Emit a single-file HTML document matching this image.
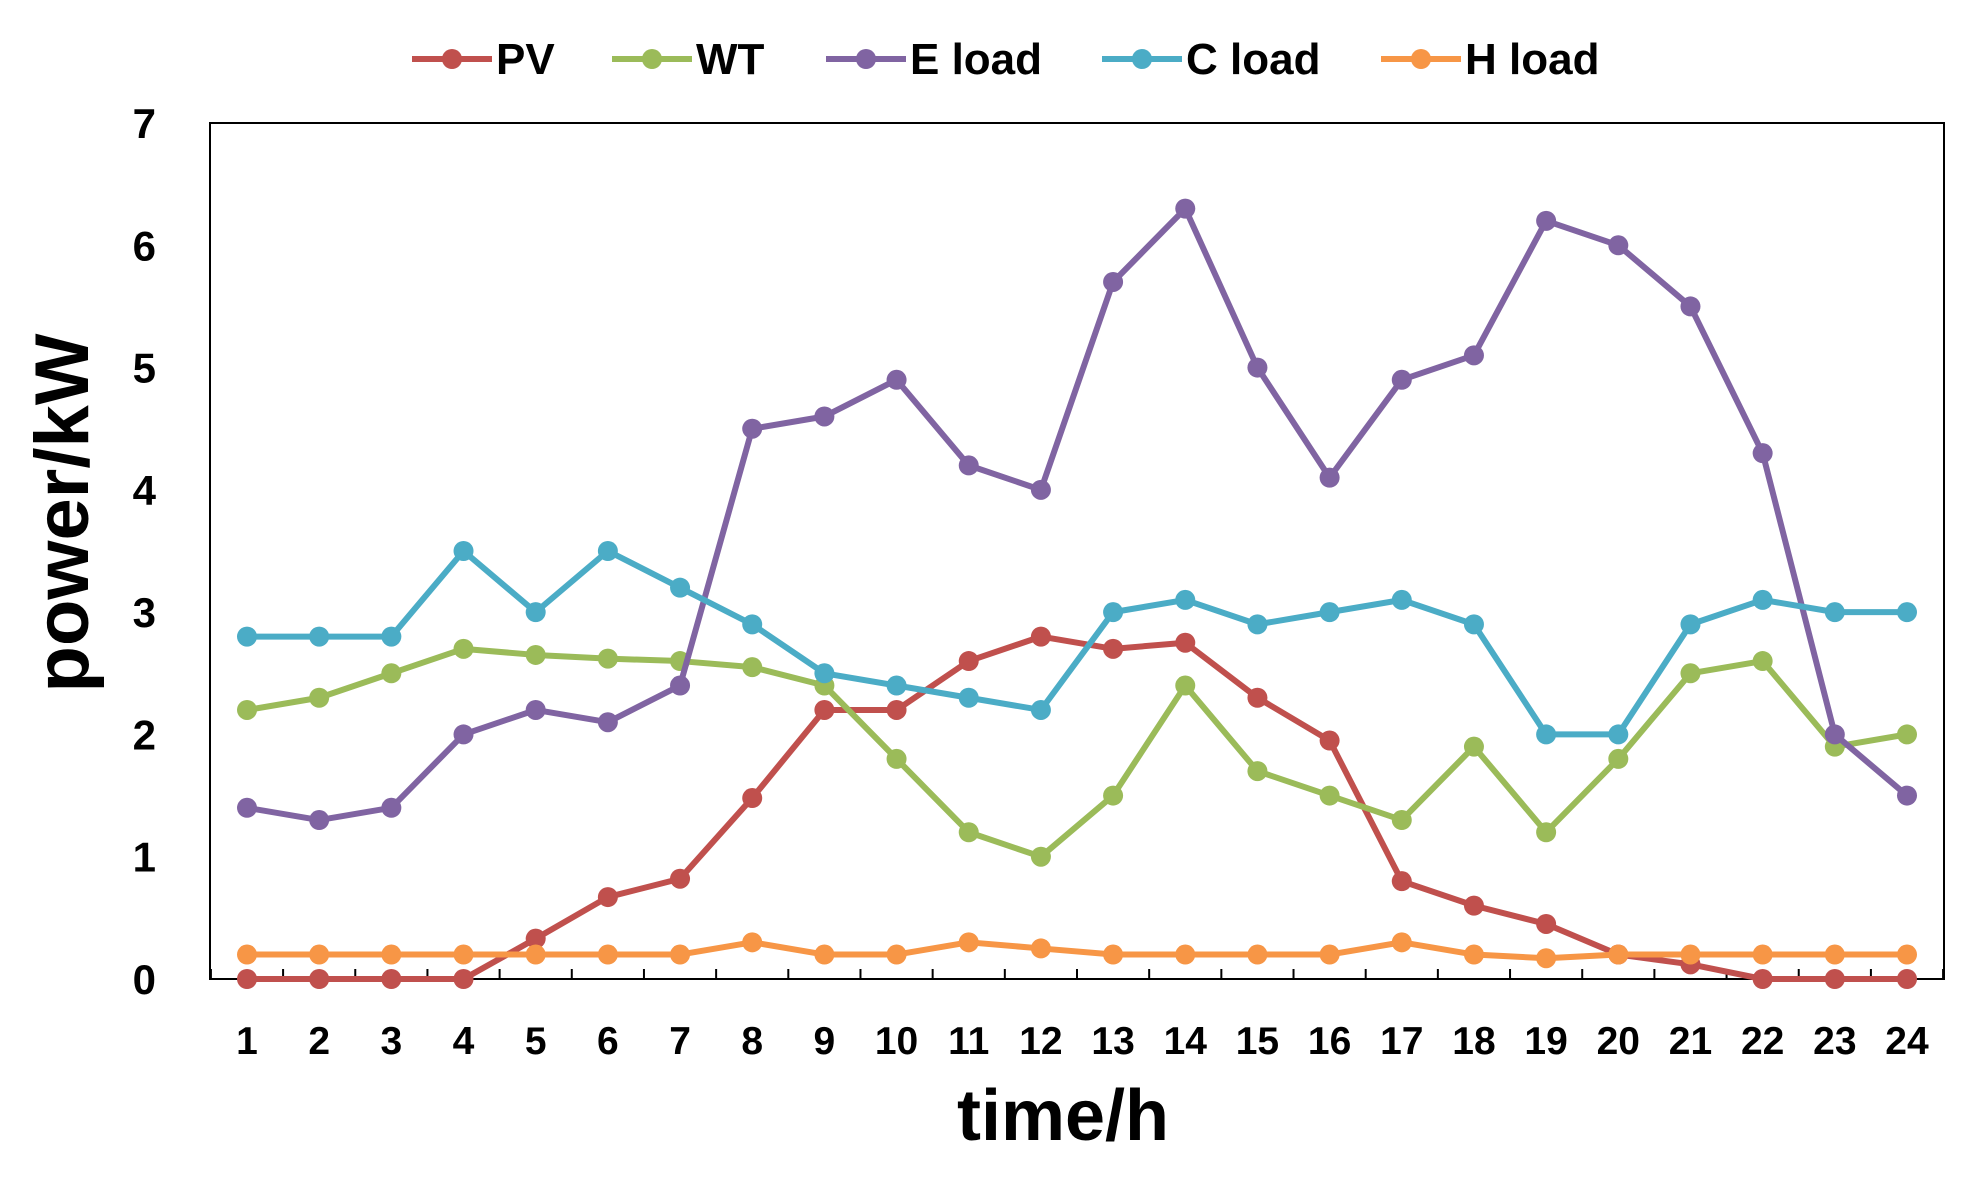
<!DOCTYPE html>
<html><head><meta charset="utf-8"><style>
body{margin:0;background:#fff;}
svg text{font-family:"Liberation Sans",sans-serif;font-weight:bold;fill:#000;}
</style></head><body>
<svg id="chart" width="1987" height="1180" viewBox="0 0 1987 1180"></svg>
<script>
const categories=["1","2","3","4","5","6","7","8","9","10","11","12","13","14","15","16","17","18","19","20","21","22","23","24"];
const yTicks=[0,1,2,3,4,5,6,7];
const seriesNames=["PV","WT","E load","C load","H load"];
const pv=[0,0,0,0,0.33,0.67,0.82,1.48,2.2,2.2,2.6,2.8,2.7,2.75,2.3,1.95,0.8,0.6,0.45,0.2,0.12,0,0,0];
const wt=[2.2,2.3,2.5,2.7,2.65,2.62,2.6,2.55,2.4,1.8,1.2,1.0,1.5,2.4,1.7,1.5,1.3,1.9,1.2,1.8,2.5,2.6,1.9,2.0];
const eload=[1.4,1.3,1.4,2.0,2.2,2.1,2.4,4.5,4.6,4.9,4.2,4.0,5.7,6.3,5.0,4.1,4.9,5.1,6.2,6.0,5.5,4.3,2.0,1.5];
const cload=[2.8,2.8,2.8,3.5,3.0,3.5,3.2,2.9,2.5,2.4,2.3,2.2,3.0,3.1,2.9,3.0,3.1,2.9,2.0,2.0,2.9,3.1,3.0,3.0];
const hload=[0.2,0.2,0.2,0.2,0.2,0.2,0.2,0.3,0.2,0.2,0.3,0.25,0.2,0.2,0.2,0.2,0.3,0.2,0.17,0.2,0.2,0.2,0.2,0.2];
const colors=["#c0504d","#9bbb59","#8064a2","#4bacc6","#f79646"];
const allSeries=[pv,wt,eload,cload,hload];
const NS="http://www.w3.org/2000/svg";
const svg=document.getElementById('chart');
const L=210,R=1944,T=123,B=979;
const x1=247,xN=1907;
function xs(i){return x1+(xN-x1)*i/(categories.length-1);}
function ys(v){return B-(B-T)*v/7;}
function mk(tag,attrs,parent){const e=document.createElementNS(NS,tag);for(const k in attrs)e.setAttribute(k,attrs[k]);(parent||svg).appendChild(e);return e;}
let frame=mk('rect',{x:L,y:T,width:R-L,height:B-T,fill:'none',stroke:'#000','stroke-width':2});


yTicks.forEach(v=>{
 let t=mk('text',{x:156,y:ys(v)+15,'text-anchor':'end','font-size':42});
 t.textContent=v;
 
 
});
const step=(xN-x1)/(categories.length-1);
for(let i=0;i<=categories.length;i++){
 const x=x1-step/2+i*step;
 if(x>L&&x<R){let tk=mk('line',{x1:x,y1:B,x2:x,y2:B-10,stroke:'#000','stroke-width':2});
 
 }
}
categories.forEach((c,i)=>{
 let t=mk('text',{x:xs(i),y:1054,'text-anchor':'middle','font-size':39});
 t.textContent=c;
 
 
});
allSeries.forEach((s,k)=>{
 const g=mk('g',{});
 
 
 mk('polyline',{points:s.map((v,i)=>xs(i)+','+ys(v)).join(' '),fill:'none',stroke:colors[k],'stroke-width':6,'stroke-linejoin':'round'},g);
 s.forEach((v,i)=>{
  const c=mk('circle',{cx:xs(i),cy:ys(v),r:10,fill:colors[k]},g);
  
  
 });
});
const legX=[412,612,826,1102,1381];
seriesNames.forEach((n,k)=>{
 const g=mk('g',{});
 
 
 mk('line',{x1:legX[k],y1:59,x2:legX[k]+80,y2:59,stroke:colors[k],'stroke-width':6},g);
 mk('circle',{cx:legX[k]+40,cy:59,r:10,fill:colors[k]},g);
 const t=mk('text',{x:legX[k]+84,y:74,'font-size':44},g);
 t.textContent=n;
});
let xl=mk('text',{x:1063,y:1140,'text-anchor':'middle','font-size':72});
xl.textContent='time/h';


let yl=mk('text',{x:0,y:0,'text-anchor':'middle','font-size':76,transform:'translate(88,513) rotate(-90)'});
yl.textContent='power/kW';


</script>
</body></html>
